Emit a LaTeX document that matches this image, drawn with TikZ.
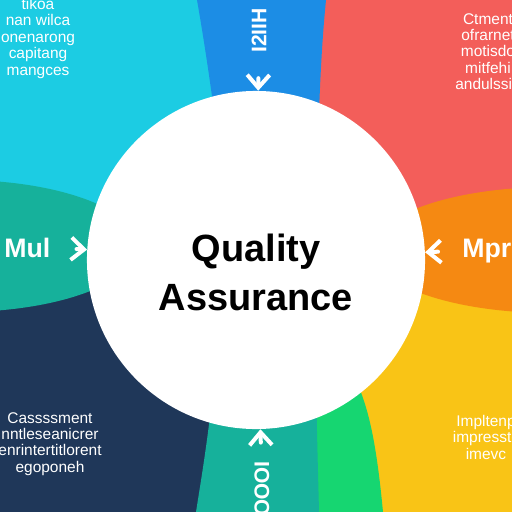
\documentclass[tikz,border=0pt]{standalone}
\usepackage{fontspec}
\setmainfont{Liberation Sans}
\usepackage{tikz}
\usetikzlibrary{arrows.meta}
\definecolor{qacyan}{RGB}{28,204,227}
\definecolor{qablue}{RGB}{28,141,229}
\definecolor{qared}{RGB}{243,94,90}
\definecolor{qaorange}{RGB}{245,137,18}
\definecolor{qayellow}{RGB}{249,196,22}
\definecolor{qagreen}{RGB}{22,214,113}
\definecolor{qateal}{RGB}{22,177,155}
\definecolor{qanavy}{RGB}{31,55,89}

\begin{document}
\begin{tikzpicture}[line cap=round,line join=round,x=0.025cm,y=-0.025cm,
    chev/.style={white,line width=1mm,-{Straight Barb[length=3.2mm,width=5.6mm]}},
    blurb/.style={white,font=\fontsize{11}{11.7}\selectfont,align=center,inner sep=0pt},
    side/.style={white,font=\fontsize{19}{22}\selectfont\bfseries,inner sep=0pt},
    tag/.style={white,font=\fontsize{15}{16}\selectfont\bfseries,inner sep=0pt}]
    \useasboundingbox (0,0) rectangle (512,512);
    \clip (0,0) rectangle (512,512);
    % quarters
    \fill [qacyan] (0,0) rectangle (256,260);
    \fill [qared] (256,0) rectangle (512,260);
    \fill [qanavy] (0,260) rectangle (256,512);
    \fill [qayellow] (256,260) rectangle (512,512);
    % strips
    \fill [qablue] (197,0) .. controls (204,40) and (210,80) .. (218,140) -- (318,140) .. controls (320,80) and (322,40) .. (326,0) -- cycle;
    \fill [qagreen] (300,370) -- (319,512) -- (383,512) .. controls (378,460) and (372,420) .. (360,390) -- (345,365) -- cycle;
    \fill [qateal] (214,380) .. controls (208,440) and (201,480) .. (196,512) -- (319,512) .. controls (318,470) and (317,440) .. (316,380) -- cycle;
    % side lobes
    \fill [qateal] (-40,246) ellipse [x radius=178, y radius=66];
    \fill [qaorange] (552,250) ellipse [x radius=180, y radius=63];
    % centre
    \node [circle,fill=white,inner sep=0pt,minimum size=8.45cm] (qa) at (256,260) {};
    \node [black,font=\fontsize{27}{34.8}\selectfont\bfseries,align=center] (qatext) at (256,272) {Quality\\Assurance};
    % labels
    \node [side,anchor=base west] (mul) at (4,257) {Mul};
    \node [side,anchor=base west] (mpr) at (462,257) {Mpr};
    \node [tag,rotate=90,anchor=west] (toptag) at (259,53) {I2IIH};
    \node [tag,rotate=-90,anchor=west] (bottag) at (262,461) {IOOO};
    \node [blurb,anchor=north] (tlnote) at (38,-2) {tikoa\\nan wilca\\onenarong\\capitang\\mangces};
    \node [blurb,anchor=north] (trnote) at (488,13) {Ctment\\ofrarnet\\motisdo\\mitfehi\\andulssih};
    \node [blurb,anchor=north] (blnote) at (50,412) {Cassssment\\nntleseanicrer\\enrintertitlorent\\egoponeh};
    \node [blurb,anchor=north] (brnote) at (486,415) {Impltenp\\impresstc\\imevc};
    % chevrons into the circle
    \draw [chev,shorten <=6.5mm] (mul.east) -- (qa);
    \draw [chev,shorten <=6mm] (mpr.west) -- (qa);
    \draw [chev,shorten <=6.3mm] (toptag) -- (qa);
    \draw [chev,shorten <=4.6mm] (bottag) -- (qa);
\end{tikzpicture}
\end{document}
